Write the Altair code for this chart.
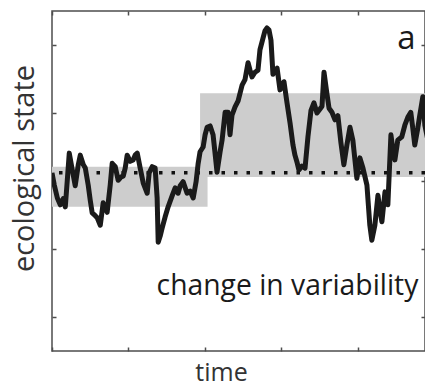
import altair as alt
import pandas as pd

# time series (time steps, ecological state)
time = [0, 1.5, 3.5, 5.4, 7.4, 8.7, 10.0, 11.3, 13.3, 15.2, 17.2, 18.5, 20.5, 21.8, 23.7, 25.0,
        26.3, 28.3, 29.6, 31.6, 33.5, 34.8, 36.1, 38.1, 39.4, 41.4, 43.3, 45.3, 46.6, 47.9, 49.2,
        51.2, 53.1, 54.4, 55.8, 57.7, 59.7, 62.3, 63.6, 65.6, 67.5, 68.8, 69.5, 70.8, 72.1, 74.0,
        76.0, 78.6, 80.6, 82.5, 83.9, 85.8, 88.4, 90.4, 92.4, 94.3, 95.6, 96.9, 98.9, 100.2, 101.5,
        103.5, 105.4, 106.7, 108.0, 110.0, 111.3, 113.3, 115.2, 116.5, 117.8, 119.8, 121.8, 124.4,
        126.3, 128.3, 129.6, 130.9, 132.9, 134.8, 136.1, 138.1, 139.4, 140.7, 142.0, 143.3, 144.6,
        146.0, 147.3, 149.2, 150.5, 151.8, 153.8, 155.8, 157.7, 159.0, 160.3, 161.6, 163.6, 165.6,
        167.5, 169.5, 171.4, 173.4, 175.4, 176.7, 178.0, 180.0, 181.3, 183.2, 185.2, 187.1, 189.1,
        191.0, 193.0, 195.0, 196.9, 199.5, 201.5, 203.5, 206.1, 208.0, 209.3, 211.3, 213.3, 214.6,
        215.9, 217.9, 219.8, 221.8, 223.1, 224.4, 226.3, 228.9, 230.9, 232.9, 234.8, 236.1, 237.4,
        239.4, 240.7, 242.7, 244.0, 246.0, 247.3, 248.6]
state = [0.12, -0.06, -0.25, -0.35, -0.26, -0.38, 0.01, 0.41, 0.16, -0.07, 0.24, 0.38, 0.24, 0.19,
         -0.06, -0.28, -0.47, -0.51, -0.54, -0.65, -0.32, -0.40, -0.46, -0.06, 0.26, 0.21, 0.01,
         0.06, 0.07, 0.19, 0.38, 0.29, 0.31, 0.38, 0.41, 0.19, -0.03, -0.18, 0.12, 0.21, 0.19,
         -0.25, -0.90, -0.81, -0.69, -0.53, -0.38, -0.22, -0.10, -0.18, -0.07, -0.01, -0.18, -0.15,
         -0.25, -0.01, 0.25, 0.43, 0.50, 0.68, 0.79, 0.81, 0.68, 0.41, 0.13, 0.43, 0.60, 1.01, 1.01,
         0.68, 0.97, 1.09, 1.18, 1.41, 1.49, 1.74, 1.63, 1.53, 1.60, 1.63, 1.93, 2.10, 2.21, 2.25,
         2.22, 2.07, 1.57, 1.63, 1.66, 1.34, 1.38, 1.46, 1.15, 0.85, 0.53, 0.38, 0.28, 0.16, 0.22,
         0.19, 0.65, 1.04, 1.15, 1.00, 1.06, 1.10, 1.60, 1.27, 1.07, 1.01, 0.90, 0.96, 0.56, 0.24,
         0.53, 0.79, 0.60, 0.04, 0.34, 0.19, -0.06, -0.65, -0.87, -0.65, -0.21, -0.43, -0.60, -0.16,
         -0.35, 0.68, 0.46, 0.31, 0.60, 0.65, 0.82, 0.94, 1.01, 0.78, 0.53, 0.78, 0.97, 1.24, 0.82,
         0.60, 0.46, 0.24]

# variability bands (before / after the change)
band_start = [0, 96.9]
band_end = [101.8, 250]
band_low = [-0.38, 0.06]
band_high = [0.21, 1.29]

mean_level = [0.12]

x_ticks = [0, 50, 100, 150, 200, 250]
y_ticks = [-2, -1, 0, 1, 2]

labels = ["a", "change in variability"]
label_x = [232.0, 154.1]
label_y = [1.94, -1.67]
label_size = [33, 28.3]

series = pd.DataFrame({"time": time, "state": state})
bands = pd.DataFrame({"x0": band_start, "x1": band_end, "y0": band_low, "y1": band_high})
mean_df = pd.DataFrame({"m": mean_level})
text_df = pd.DataFrame({"label": labels, "x": label_x, "y": label_y, "size": label_size})

FONT = "Open Sans"
AX = "#4d4d4d"
# the visible window ends a little before t = 250 (right frame runs off the page)
xs = alt.Scale(domain=[0, 244.1], nice=False, zero=False)
ys = alt.Scale(domain=[-2.5, 2.5], nice=False, zero=False)

common = dict(labels=False, domain=False, grid=False, tickSize=4, offset=-4,
              tickColor=AX, tickWidth=1.5)

bottom_axis = alt.Axis(orient="bottom", values=x_ticks[:-1], title="time", titleFont=FONT,
                       titleFontSize=25, titleFontWeight="normal", titleColor="#333333",
                       titleX=169, titleY=33, titleBaseline="alphabetic", titleAlign="center",
                       **common)
left_axis = alt.Axis(orient="left", values=y_ticks, title="ecological state", titleFont=FONT,
                     titleFontSize=29, titleFontWeight="normal", titleColor="#333333",
                     titleX=-23, titleY=157, titleAngle=270, titleBaseline="alphabetic",
                     titleAlign="center", **common)
top_axis = alt.Axis(orient="top", values=x_ticks[:-1], title=None, **common)
right_axis = alt.Axis(orient="right", values=y_ticks, title=None, **common)

rects = alt.Chart(bands).mark_rect(color="#cdcdcd", clip=True).encode(
    x=alt.X("x0:Q", scale=xs, axis=top_axis),
    x2="x1:Q",
    y=alt.Y("y0:Q", scale=ys, axis=right_axis),
    y2="y1:Q",
)

dotted = alt.Chart(mean_df).mark_rule(color="#111111", strokeWidth=3.5,
                                      strokeDash=[3.5, 9]).encode(
    y=alt.Y("m:Q", scale=ys, axis=None)
)

line = alt.Chart(series).mark_line(color="#1a1a1a", strokeWidth=5,
                                   strokeJoin="round", clip=True).encode(
    x=alt.X("time:Q", scale=xs, axis=bottom_axis),
    y=alt.Y("state:Q", scale=ys, axis=left_axis),
)

text = alt.Chart(text_df).mark_text(font=FONT, color="#1a1a1a", baseline="alphabetic",
                                    align="center").encode(
    x=alt.X("x:Q", scale=xs, axis=None),
    y=alt.Y("y:Q", scale=ys, axis=None),
    text="label:N",
    size=alt.Size("size:Q", scale=None, legend=None),
)

chart = alt.layer(rects, dotted, line, text).resolve_axis(
    x="independent", y="independent"
).properties(
    width=373, height=340,
    autosize=alt.AutoSizeParams(type="none"),
    padding={"left": 44, "top": 3, "right": 0, "bottom": 33},
).configure_view(stroke=AX, strokeWidth=1.5)

chart.save("out.html", embed_options={"renderer": "svg", "actions": False})
